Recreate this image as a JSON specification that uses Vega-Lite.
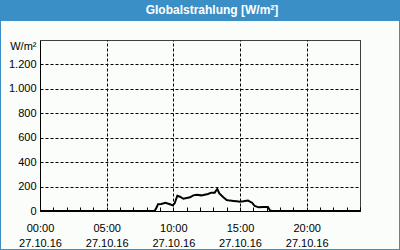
{
  "$schema": "https://vega.github.io/schema/vega-lite/v6.json",
  "width": 398,
  "height": 228,
  "autosize": {"type": "none"},
  "padding": {"left": 1, "right": 1, "top": 21, "bottom": 1},
  "background": "#3b8fc7",
  "title": {
    "text": "Globalstrahlung [W/m²]",
    "color": "#ffffff",
    "font": "Liberation Sans",
    "fontSize": 12,
    "fontWeight": "bold",
    "anchor": "middle",
    "frame": "group",
    "baseline": "middle",
    "offset": 11,
    "dx": 12,
    "dy": 12
  },
  "config": {
    "view": {"fill": "#fafdfa", "stroke": null},
    "axis": {
      "labelFont": "Liberation Sans",
      "labelFontSize": 11,
      "labelColor": "#000000",
      "titleFont": "Liberation Sans",
      "titleFontSize": 11,
      "titleFontWeight": "normal",
      "titleColor": "#000000",
      "domainColor": "#000000",
      "domainWidth": 1,
      "tickColor": "#000000",
      "gridColor": "#000000",
      "gridWidth": 1
    }
  },
  "data": {
    "values": [
      {"hour": 0, "value": 0},
      {"hour": 8.6, "value": 0},
      {"hour": 8.75, "value": 30},
      {"hour": 8.85, "value": 55},
      {"hour": 9.1, "value": 57},
      {"hour": 9.4, "value": 68},
      {"hour": 9.75, "value": 55},
      {"hour": 9.95, "value": 46},
      {"hour": 10.1, "value": 63},
      {"hour": 10.3, "value": 125},
      {"hour": 10.5, "value": 117},
      {"hour": 10.75, "value": 100},
      {"hour": 11.0, "value": 106},
      {"hour": 11.25, "value": 112},
      {"hour": 11.5, "value": 128},
      {"hour": 11.75, "value": 133},
      {"hour": 12.1, "value": 128},
      {"hour": 12.6, "value": 139},
      {"hour": 12.85, "value": 150},
      {"hour": 13.1, "value": 150},
      {"hour": 13.3, "value": 180},
      {"hour": 13.45, "value": 144},
      {"hour": 13.75, "value": 112},
      {"hour": 14.0, "value": 90},
      {"hour": 14.25, "value": 85},
      {"hour": 14.5, "value": 82},
      {"hour": 14.75, "value": 79},
      {"hour": 15.0, "value": 76},
      {"hour": 15.25, "value": 79},
      {"hour": 15.6, "value": 85},
      {"hour": 15.9, "value": 68},
      {"hour": 16.1, "value": 41},
      {"hour": 16.4, "value": 30},
      {"hour": 16.75, "value": 33},
      {"hour": 17.1, "value": 33},
      {"hour": 17.25, "value": 5},
      {"hour": 17.4, "value": 0},
      {"hour": 24, "value": 0}
    ]
  },
  "mark": {"type": "line", "color": "#000000", "strokeWidth": 2},
  "encoding": {
    "x": {
      "field": "hour",
      "type": "quantitative",
      "scale": {"domain": [0, 24], "range": [39, 359], "nice": false, "zero": false},
      "axis": {
        "orient": "top",
        "offset": -190,
        "title": null,
        "values": [0,1,2,3,4,5,6,7,8,9,10,11,12,13,14,15,16,17,18,19,20,21,22,23,24],
        "labelExpr": "datum.value % 5 == 0 && datum.value < 24 ? [(datum.value < 10 ? '0' : '') + datum.value + ':00', '27.10.16'] : ''",
        "labelFlush": false,
        "labelOverlap": false,
        "labelBaseline": "middle",
        "labelPadding": -21,
        "labelLineHeight": 15,
        "ticks": true,
        "tickSize": 4,
        "grid": true,
        "gridDash": {"condition": {"test": "datum.value == 24", "value": [1, 0]}, "value": [3, 2]},
        "gridOpacity": {"condition": {"test": "(datum.value % 5 == 0 && datum.value > 0) || datum.value == 24", "value": 1}, "value": 0}
      }
    },
    "y": {
      "field": "value",
      "type": "quantitative",
      "scale": {"domain": [0, 1400], "range": [190, 19], "nice": false},
      "axis": {
        "orient": "left",
        "offset": -39,
        "values": [0, 200, 400, 600, 800, 1000, 1200, 1400],
        "labelExpr": "datum.value == 1400 ? '' : replace(format(datum.value, ','), ',', '.')",
        "ticks": false,
        "tickSize": 0,
        "labelPadding": 4,
        "grid": true,
        "gridDash": {"condition": {"test": "datum.value == 1400", "value": [1, 0]}, "value": [3, 2]},
        "gridOpacity": {"condition": {"test": "datum.value == 0", "value": 0}, "value": 1},
        "title": "W/m²",
        "titleAngle": 0,
        "titleAlign": "right",
        "titleBaseline": "middle",
        "titleX": -4,
        "titleY": 25
      }
    }
  }
}
